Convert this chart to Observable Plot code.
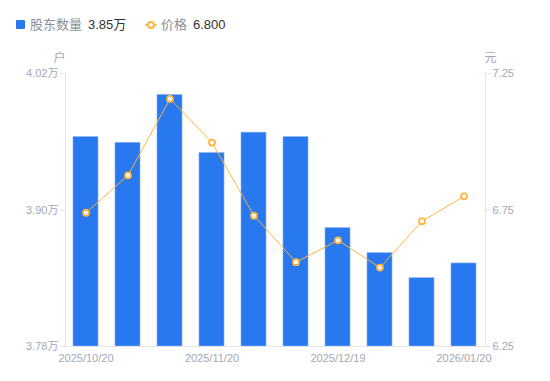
<!DOCTYPE html>
<html><head><meta charset="utf-8">
<script src="https://cdn.jsdelivr.net/npm/d3@7"></script>
<script src="https://cdn.jsdelivr.net/npm/@observablehq/plot@0.6"></script>
<style>
body{margin:0;background:#fff;font-family:"Liberation Sans","Noto Sans CJK SC",sans-serif;}
#legend{position:relative;height:48px;font-size:13px;}
.item{position:absolute;top:16px;line-height:18px;white-space:nowrap;}
.lab{color:#8a8f99;}
.val{color:#333;margin-left:6px;}
</style></head><body>
<div id="legend">
  <div class="item" style="left:16px"><span style="display:inline-block;width:9px;height:9px;background:#2878f0;border-radius:1px;margin-right:5px;vertical-align:-0px"></span><span class="lab">股东数量</span><span class="val">3.85万</span></div>
  <div class="item" style="left:145px"><svg width="12" height="10" style="margin-right:4px;vertical-align:-1px"><line x1="0" y1="5" x2="12" y2="5" stroke="#ffb43c" stroke-width="1.5"/><circle cx="6" cy="5" r="3" fill="#fff" stroke="#ffb43c" stroke-width="2"/></svg><span class="lab">价格</span><span class="val">6.800</span></div>
</div>
<div id="chart"></div>
<script>
const dates = ["2025/10/20","2025/10/31","2025/11/10","2025/11/20","2025/11/28","2025/12/10","2025/12/19","2025/12/31","2026/01/09","2026/01/20"];
const holders = [3.964,3.959,4.001,3.950,3.968,3.964,3.884,3.862,3.840,3.853];
const prices = [6.740,6.877,7.157,6.997,6.729,6.559,6.639,6.539,6.709,6.800];
const shownDates = ["2025/10/20","2025/11/20","2025/12/19","2026/01/20"];
const leftTicks = [3.78,3.90,4.02];
const rightTicks = [6.25,6.75,7.25];

const yMin = 3.78, yMax = 4.02, pMin = 6.25, pMax = 7.25;
const toY = p => yMin + (p - pMin) / (pMax - pMin) * (yMax - yMin);
const fromY = y => pMin + (y - yMin) / (yMax - yMin) * (pMax - pMin);

const data = dates.map((d,i)=>({date:d, h:holders[i], p:prices[i], py:toY(prices[i])}));
const gray = "#a3a8b4";
const axisCol = "#e3e4e8";

const chart = Plot.plot({
  width: 550, height: 333,
  marginTop: 25, marginBottom: 35, marginLeft: 65, marginRight: 65,
  style: {fontFamily: '"Liberation Sans","Noto Sans CJK SC",sans-serif', fontSize: "11px", color: gray, background: "#fff"},
  x: {domain: dates, paddingInner: 0.4, paddingOuter: 0.2, axis: null},
  y: {domain: [yMin, yMax], axis: null},
  marks: [
    Plot.barY(data, {x: "date", y1: () => yMin, y2: "h", fill: "#2878f0", stroke: "#7eaef7", strokeWidth: 0.6}),
    Plot.frame({anchor: "left", stroke: axisCol}),
    Plot.frame({anchor: "right", stroke: axisCol}),
    Plot.frame({anchor: "bottom", stroke: axisCol}),
    Plot.axisY(leftTicks, {anchor: "left", tickSize: 5, tickPadding: 2, stroke: axisCol, fill: gray, tickFormat: d => d.toFixed(2) + "万", label: null}),
    Plot.axisY(rightTicks.map(toY), {anchor: "right", tickSize: 5, tickPadding: 2, stroke: axisCol, fill: gray, tickFormat: d => fromY(d).toFixed(2), label: null}),
    Plot.axisX(shownDates, {anchor: "bottom", tickSize: 0, tickPadding: 8, fill: gray, label: null}),
    Plot.text(["户"], {frameAnchor: "top-left", dx: -6, dy: -20, fill: gray, fontSize: 12, textAnchor: "middle"}),
    Plot.text(["元"], {frameAnchor: "top-right", dx: 5, dy: -20, fill: gray, fontSize: 12, textAnchor: "middle"}),
    Plot.lineY(data, {x: "date", y: "py", stroke: "#ffb43c", strokeWidth: 1}),
    Plot.dot(data, {x: "date", y: "py", r: 3, fill: "#fff", stroke: "#ffb43c", strokeWidth: 1.8})
  ]
});
document.getElementById("chart").appendChild(chart);
</script>
</body></html>
